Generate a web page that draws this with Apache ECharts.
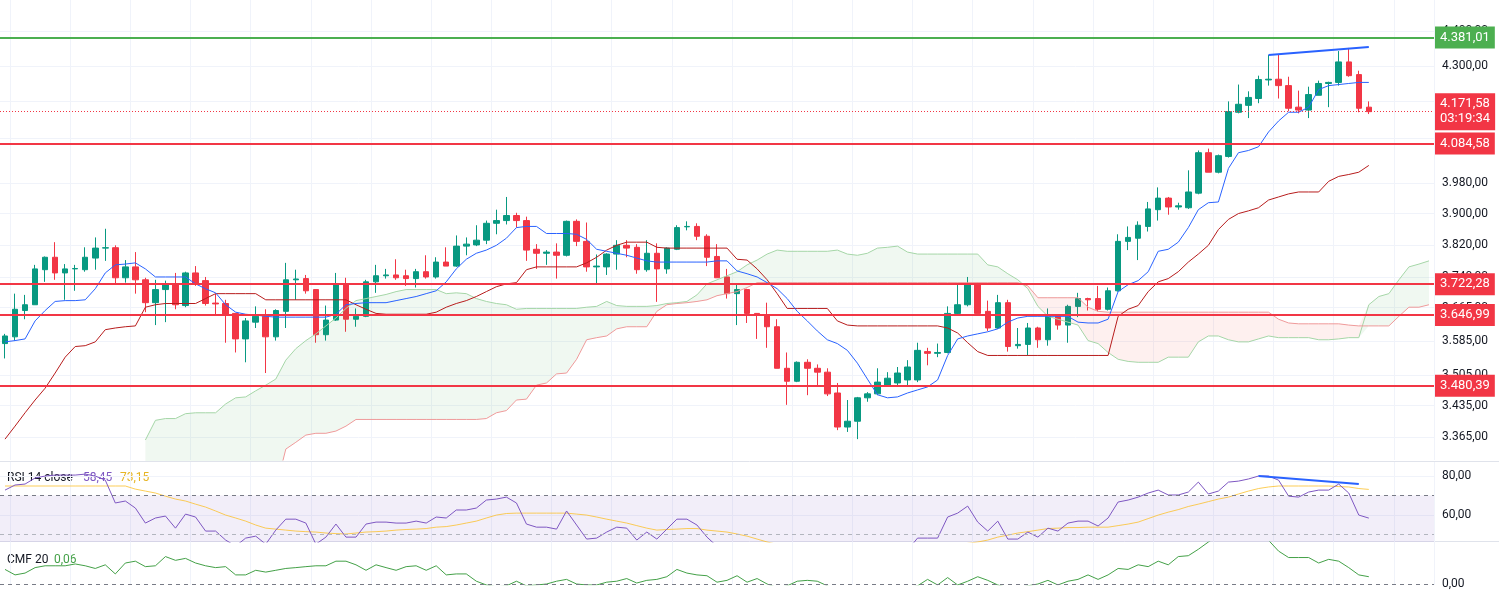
<!DOCTYPE html>
<html><head><meta charset="utf-8">
<script src="https://cdn.jsdelivr.net/npm/echarts@6/dist/echarts.min.js"></script>
<style>html,body{margin:0;padding:0;background:#fff}#c{width:1499px;height:590px}</style>
</head><body><div id="c"></div>
<script>
// [open, close, low, high]
const candles = [
[3579,3597,3544,3602],[3595,3661,3586,3699],[3658,3672,3637,3696],[3672,3760,3672,3770],[3758,3789,3728,3791],
[3789,3750,3733,3827],[3750,3760,3684,3772],[3760,3761,3706,3770],[3758,3789,3753,3814],[3787,3812,3758,3839],
[3812,3813,3780,3861],[3813,3738,3721,3819],[3738,3765,3726,3782],[3765,3733,3699,3802],[3733,3677,3654,3738],
[3677,3709,3623,3733],[3709,3721,3630,3731],[3721,3672,3661,3750],[3670,3750,3666,3753],[3750,3723,3718,3767],
[3731,3675,3670,3740],[3676,3674,3647,3699],[3675,3649,3581,3684],[3651,3590,3558,3651],[3590,3633,3535,3640],
[3630,3644,3616,3668],[3644,3595,3510,3661],[3595,3658,3586,3661],[3656,3733,3616,3775],[3733,3735,3684,3758],
[3736,3706,3699,3745],[3709,3600,3581,3709],[3600,3635,3586,3670],[3635,3723,3633,3750],[3723,3637,3607,3738],
[3637,3644,3619,3663],[3644,3728,3642,3733],[3728,3743,3701,3770],[3743,3745,3736,3760],[3745,3738,3733,3784],
[3743,3736,3718,3758],[3736,3753,3714,3760],[3753,3740,3736,3794],[3740,3777,3736,3789],[3777,3767,3767,3814],
[3767,3817,3765,3844],[3817,3822,3794,3839],[3820,3832,3817,3870],[3832,3875,3822,3882],[3875,3882,3847,3910],
[3882,3895,3872,3943],[3895,3882,3864,3902],[3882,3807,3780,3892],[3809,3799,3760,3822],[3799,3802,3770,3807],
[3802,3794,3736,3824],[3794,3880,3791,3882],[3880,3829,3817,3885],[3829,3765,3753,3877],[3765,3767,3723,3796],
[3765,3797,3745,3799],[3797,3819,3758,3832],[3819,3812,3789,3832],[3814,3758,3748,3822],[3758,3799,3753,3832],
[3799,3760,3679,3824],[3760,3812,3748,3814],[3809,3864,3807,3870],[3866,3867,3857,3880],[3867,3842,3832,3875],
[3842,3789,3767,3847],[3791,3738,3738,3822],[3740,3699,3687,3760],[3699,3709,3623,3723],[3709,3651,3628,3711],
[3651,3647,3590,3652],[3647,3619,3569,3677],[3619,3521,3521,3637],[3521,3491,3437,3558],[3491,3535,3489,3537],
[3535,3521,3459,3542],[3521,3512,3480,3530],[3512,3462,3457,3521],[3464,3387,3380,3487],[3387,3400,3376,3448],
[3400,3453,3360,3455],[3453,3462,3444,3466],[3462,3489,3459,3521],[3482,3498,3478,3512],[3487,3510,3478,3524],
[3494,3524,3482,3540],[3494,3563,3489,3581],[3560,3556,3528,3569],[3556,3558,3547,3579],[3558,3651,3556,3668],
[3651,3672,3649,3721],[3672,3723,3668,3740],[3723,3651,3651,3726],[3656,3616,3609,3682],[3616,3677,3614,3696],
[3677,3572,3560,3684],[3574,3577,3567,3616],[3577,3616,3551,3628],[3616,3588,3569,3619],[3588,3644,3574,3663],
[3644,3623,3612,3649],[3623,3668,3581,3672],[3668,3687,3642,3701],[3687,3684,3658,3689],[3687,3661,3656,3718],
[3661,3706,3658,3714],[3706,3829,3704,3847],[3829,3839,3807,3867],[3837,3870,3782,3880],[3867,3912,3854,3930],
[3910,3940,3882,3968],[3940,3917,3897,3943],[3917,3920,3910,3928],[3915,3956,3912,4013],[3953,4060,3950,4066],
[4060,4008,4008,4071],[4008,4052,4005,4055],[4050,4172,4047,4200],[4170,4192,4167,4247],[4189,4211,4154,4228],
[4208,4261,4195,4272],[4260,4262,4244,4331],[4262,4244,4208,4331],[4244,4181,4173,4269],[4184,4176,4167,4230],
[4176,4219,4154,4241],[4217,4250,4217,4258],[4250,4253,4184,4255],[4253,4311,4244,4342],[4311,4272,4269,4351],
[4275,4181,4170,4286],[4184,4171.58,4165,4200]
];
const tenkan = [3583,3586,3590,3633,3658,3680,3682,3682,3684,3711,
3750,3770,3772,3775,3760,3740,3740,3740,3740,3723,
3711,3701,3672,3654,3649,3647,3644,3642,3642,3642,
3642,3642,3642,3649,3672,3675,3677,3677,3677,3682,
3687,3692,3699,3706,3728,3760,3784,3799,3807,3819,
3837,3864,3867,3867,3849,3849,3849,3847,3834,3809,
3804,3799,3794,3787,3780,3777,3777,3777,3777,3777,
3777,3780,3780,3755,3748,3740,3726,3711,3687,3656,
3633,3609,3588,3579,3563,3533,3496,3460,3453,3455,
3464,3471,3478,3494,3551,3590,3597,3602,3607,3614,
3630,3640,3644,3644,3644,3644,3644,3630,3628,3628,
3637,3704,3721,3731,3753,3804,3809,3827,3864,3910,
3928,3930,4018,4060,4066,4076,4116,4146,4170,4170,
4184,4233,4244,4247,4250,4253,4253];
const kijun = [3360,3389,3419,3448,3475,3510,3547,3572,3574,3583,
3612,3616,3619,3621,3666,3672,3675,3675,3675,3675,
3687,3699,3699,3699,3699,3699,3684,3684,3684,3684,
3684,3684,3684,3684,3684,3672,3661,3651,3649,3649,
3649,3649,3649,3654,3666,3675,3682,3692,3704,3716,
3723,3726,3758,3765,3765,3765,3765,3765,3775,3789,
3807,3819,3827,3827,3827,3814,3812,3812,3812,3812,
3812,3812,3812,3784,3782,3760,3733,3699,3663,3663,
3663,3663,3663,3633,3623,3621,3621,3621,3621,3621,
3621,3621,3621,3621,3616,3604,3581,3560,3551,3551,
3551,3551,3551,3551,3551,3551,3551,3551,3551,3551,
3551,3644,3661,3670,3704,3728,3736,3753,3777,3797,
3819,3859,3885,3900,3907,3915,3935,3943,3951,3956,
3956,3956,3984,3997,4002,4008,4026];
const spanA = [null,null,null,null,null,null,null,null,null,null,null,null,null,null,
3358,3402,3406,3406,3417,3419,3419,3419,3439,3453,
3455,3469,3482,3496,3540,3567,3586,3602,3621,3640,
3663,3682,3687,3692,3697,3704,3709,3709,3709,3709,
3699,3701,3699,3687,3680,3675,3672,3661,3663,3663,
3663,3663,3663,3663,3666,3668,3680,3670,3668,3668,
3668,3670,3675,3677,3680,3696,3723,3733,3743,3753,
3770,3782,3797,3807,3804,3804,3804,3804,3804,3807,
3797,3794,3799,3812,3814,3817,3802,3797,3797,3797,
3797,3797,3797,3797,3770,3765,3748,3733,3711,3668,
3644,3637,3630,3623,3586,3579,3558,3542,3537,3535,
3535,3535,3547,3547,3547,3583,3597,3597,3588,3583,
3583,3590,3597,3593,3593,3593,3593,3588,3588,3590,
3593,3593,3672,3692,3699,3733,3765,3772,3780];
const spanB = [null,null,null,null,null,null,null,null,null,null,null,null,null,null,
3250,3250,3250,3250,3250,3250,3250,3250,3250,3250,3250,3250,3250,3250,
3338,3353,3369,3373,3373,3378,3389,3404,3404,3404,
3404,3404,3404,3404,3404,3404,3404,3404,3404,3404,
3406,3419,3424,3448,3450,3482,3487,3508,3510,3542,
3588,3593,3597,3614,3619,3619,3619,3656,3672,3675,
3677,3680,3684,3694,3699,3704,3714,3726,3726,3726,
3726,3726,3726,3726,3726,3726,3726,3726,3726,3726,3726,3726,
3726,3726,3726,3726,3726,3726,3726,3726,3726,3726,3726,3726,
3718,3689,3689,3689,3689,3689,3666,3656,
3654,3654,3654,3654,3654,3654,3654,3654,3654,3654,3654,3654,3654,3654,3654,3654,3654,
3637,3628,3626,3626,3626,3626,3626,3623,3621,3621,3621,3621,3644,3666,3666,3672];
const rsi = [72.8,75.4,75.9,79.0,80.0,80.5,80.5,80.5,81.0,80.0,
77.9,66.2,67.2,63.6,55.9,58.5,59.5,53.3,60.5,59.0,
51.8,51.8,47.2,44.1,48.2,49.2,45.1,52.3,57.9,57.9,
55.9,45.1,48.7,55.4,48.7,48.7,55.4,56.4,56.4,55.9,
55.9,56.9,55.9,59.0,58.5,62.6,62.6,63.6,67.7,68.2,
69.2,66.2,55.4,53.8,53.8,52.8,62.1,54.9,47.7,48.2,
51.3,53.8,53.3,47.2,51.3,47.7,52.8,57.9,57.9,54.9,
48.7,44,41,42,38,38,36,32,30,33,
31,31,29,26,28,32,33,36,38,40,
42,48.2,48.2,48.2,59.0,61.0,64.6,56.4,51.8,56.9,
47.7,47.7,51.3,48.7,53.3,51.8,55.9,56.9,56.9,54.4,
58.5,66.7,67.7,69.2,71.3,72.8,70.3,70.3,71.8,76.9,
70.8,72.3,76.9,77.4,78.5,80.0,80.0,77.9,69.7,69.2,
71.8,72.8,72.8,75.9,71.3,60.0,58.45];
const rsiMa = [74.9,74.9,74.9,74.9,74.9,74.9,74.9,74.9,74.9,74.9,
74.9,74.9,74.9,73.3,72.3,71.3,69.7,68.2,67.2,65.6,
64.1,62.1,60.0,58.5,56.9,54.9,53.3,52.8,52.3,51.8,
51.5,51.3,50.8,50.5,50.3,50.8,51.3,51.5,51.8,52.3,
52.6,52.8,53.1,53.8,54.1,54.9,55.9,56.9,58.5,60.0,
60.8,61.0,61.0,61.0,61.0,61.0,61.0,60.5,60.0,59.0,
57.9,56.9,55.9,54.6,53.3,52.3,52.6,52.8,53.1,53.1,
52.3,51.8,51.3,50.3,49.2,47.7,46.2,45,44,43,
42,41,40,39,38,37.5,37,37,37,37.5,
38,39,40,41,42.5,44,45.5,46.2,47.2,48.7,
49.7,50.8,51.5,52.3,53.1,53.3,53.6,53.6,53.8,53.8,
53.8,54.6,55.4,56.4,58.2,60.0,61.5,62.8,64.4,65.6,
66.9,68.2,69.2,70.8,72.3,73.6,74.4,74.9,74.9,74.9,
74.9,74.9,74.9,74.6,74.4,73.6,73.15];
const cmf = [0.120,0.075,0.090,0.135,0.150,0.150,0.150,0.165,0.150,0.128,
0.158,0.083,0.173,0.188,0.143,0.150,0.226,0.195,0.211,0.173,
0.150,0.135,0.143,0.075,0.075,0.113,0.098,0.113,0.128,0.135,
0.143,0.150,0.150,0.188,0.188,0.158,0.113,0.158,0.135,0.113,
0.143,0.150,0.113,0.150,0.075,0.083,0.083,0.023,-0.008,-0.023,
-0.015,0.023,-0.015,-0.008,0,0.023,0.038,0,-0.008,-0.008,
0.015,0.023,0.045,0.008,0.030,0.038,0.060,0.120,0.090,0.075,
0.068,0.015,0.030,0.068,0.015,0.045,0,-0.030,-0.015,0.023,
0.030,0.023,-0.015,-0.05,-0.07,-0.08,-0.06,-0.05,-0.04,-0.04,
-0.03,-0.015,0.038,-0.008,0.053,-0.008,0.023,0.060,0.030,-0.008,
-0.030,-0.030,-0.015,0,0.030,-0.008,0.023,0.038,0.075,0.038,
0.075,0.128,0.120,0.158,0.143,0.188,0.158,0.226,0.233,0.286,
0.346,0.40,0.44,0.45,0.44,0.41,0.36,0.271,0.218,0.218,
0.218,0.173,0.203,0.188,0.135,0.075,0.06];
const priceTicks = [3365,3435,3505,3585,3665,3740,3820,3900,3980,4100,4200,4300,4400];
const priceLabels = [3365,3435,3505,3585,3665,3740,3820,3900,3980,4200,4300,4400];
const redLevels = [4084.58,3722.28,3646.99,3480.39];
const greenLevel = 4381.01;
const lastPrice = 4171.58;
const countdown = '03:19:34';
const priceTrend = [[126,4331],[136,4354]];
const rsiTrend = [[125,80.0],[135,75.9]];
const nCat = 143;
const categories = Array.from({length:nCat},(_,i)=>String(i+1));

function fmt(v){const s=v.toFixed(2).split('.');return s[0].replace(/\B(?=(\d{3})+(?!\d))/g,'.')+','+s[1];}
const cloudBase = spanA.map((a,i)=>a==null?'-':Math.min(a,spanB[i]));
const cloudG = spanA.map((a,i)=>a==null?'-':Math.max(a-spanB[i],0));
const cloudR = spanA.map((a,i)=>a==null?'-':Math.max(spanB[i]-a,0));

const chart = echarts.init(document.getElementById('c'));
const gridLine = {show:true,lineStyle:{color:'#f0f3fa',width:1}};
const vSplit = {show:true,interval:(i)=>i%6===1,lineStyle:{color:'#f0f3fa'}};
const xBase = {type:'category',data:categories,boundaryGap:true,axisLine:{show:false},axisTick:{show:false},axisLabel:{show:false},splitLine:vSplit};
const lbl = {color:'#131722',fontSize:12,fontFamily:'Roboto, sans-serif',margin:8};
const levelLabel = (bg,txt)=>({show:true,position:'end',distance:1,formatter:txt,backgroundColor:bg,color:'#fff',padding:[4,5,3,5],fontSize:13,fontFamily:'Roboto, sans-serif',lineHeight:15});

const markLines = [
 {yAxis:greenLevel,lineStyle:{color:'#4caf50',width:2,type:'solid'},label:levelLabel('#4caf50',fmt(greenLevel))},
 ...redLevels.map(v=>({yAxis:v,lineStyle:{color:'#f23645',width:2,type:'solid'},label:levelLabel('#f23645',fmt(v))})),
 {yAxis:lastPrice,lineStyle:{color:'#f23645',width:1,type:[1,2]},label:levelLabel('#f23645',fmt(lastPrice)+'\n'+countdown)},
 [{coord:[priceTrend[0][0],priceTrend[0][1]],lineStyle:{color:'#2962ff',width:2,type:'solid'},label:{show:false}},{coord:[priceTrend[1][0],priceTrend[1][1]]}]
];

chart.setOption({
 animation:false,
 grid:[{left:0,right:65,top:0,height:460},{left:0,right:65,top:462,height:80},{left:0,right:65,top:542,height:48}],
 xAxis:[{...xBase,gridIndex:0},{...xBase,gridIndex:1},{...xBase,gridIndex:2}],
 yAxis:[
  {type:'log',gridIndex:0,position:'right',min:3314,max:4491,axisLine:{show:false},axisTick:{show:false,customValues:priceTicks},
   axisLabel:{...lbl,customValues:priceLabels,formatter:v=>fmt(v)},splitLine:gridLine},
  {type:'value',gridIndex:1,position:'right',min:46.2,max:87.2,axisLine:{show:false},axisTick:{show:false,customValues:[60,80]},
   axisLabel:{...lbl,customValues:[60,80],formatter:v=>fmt(v)},splitLine:gridLine},
  {type:'value',gridIndex:2,position:'right',min:-0.006,max:0.346,axisLine:{show:false},axisTick:{show:false,customValues:[0]},
   axisLabel:{...lbl,customValues:[0],formatter:v=>fmt(v)},splitLine:{show:false}}
 ],
 series:[
  {type:'line',xAxisIndex:0,yAxisIndex:0,data:cloudBase,stack:'cloud',symbol:'none',lineStyle:{opacity:0},silent:true},
  {type:'line',xAxisIndex:0,yAxisIndex:0,data:cloudG,stack:'cloud',symbol:'none',lineStyle:{opacity:0},areaStyle:{color:'rgba(67,160,71,0.11)'},silent:true},
  {type:'line',xAxisIndex:0,yAxisIndex:0,data:cloudR,stack:'cloud',symbol:'none',lineStyle:{opacity:0},areaStyle:{color:'rgba(244,67,54,0.11)'},silent:true},
  {type:'line',xAxisIndex:0,yAxisIndex:0,data:spanA,symbol:'none',lineStyle:{color:'#a5d6a7',width:1}},
  {type:'line',xAxisIndex:0,yAxisIndex:0,data:spanB,symbol:'none',lineStyle:{color:'#ef9a9a',width:1}},
  {type:'line',xAxisIndex:0,yAxisIndex:0,data:kijun,symbol:'none',lineStyle:{color:'#b71c1c',width:1}},
  {type:'line',xAxisIndex:0,yAxisIndex:0,data:tenkan,symbol:'none',lineStyle:{color:'#2962ff',width:1}},
  {type:'candlestick',xAxisIndex:0,yAxisIndex:0,data:candles,barWidth:6,
   itemStyle:{color:'#089981',color0:'#f23645',borderColor:'#089981',borderColor0:'#f23645',borderWidth:1},
   markLine:{symbol:'none',silent:true,data:markLines}},
  {type:'line',xAxisIndex:1,yAxisIndex:1,data:rsiMa,symbol:'none',lineStyle:{color:'#fbc02d',width:1,opacity:0.8}},
  {type:'line',xAxisIndex:1,yAxisIndex:1,data:rsi,symbol:'none',lineStyle:{color:'#7e57c2',width:1},
   markArea:{silent:true,itemStyle:{color:'rgba(126,87,194,0.1)'},data:[[{yAxis:30},{yAxis:70}]]},
   markLine:{symbol:'none',silent:true,label:{show:false},data:[
    {yAxis:70,lineStyle:{color:'#787b86',type:[4,4],width:1}},
    {yAxis:50,lineStyle:{color:'#b2b5be',type:[4,4],width:1}},
    [{coord:[rsiTrend[0][0],rsiTrend[0][1]],lineStyle:{color:'#2962ff',width:2,type:'solid'}},{coord:[rsiTrend[1][0],rsiTrend[1][1]]}]
   ]}},
  {type:'line',xAxisIndex:2,yAxisIndex:2,data:cmf,symbol:'none',lineStyle:{color:'#43a047',width:1},
   markLine:{symbol:'none',silent:true,label:{show:false},data:[{yAxis:0,lineStyle:{color:'#787b86',type:[4,4],width:1}}]}}
 ],
 graphic:[
  {type:'line',shape:{x1:0,y1:461.5,x2:1499,y2:461.5},style:{stroke:'#e0e3eb',lineWidth:1},silent:true},
  {type:'line',shape:{x1:0,y1:541.5,x2:1499,y2:541.5},style:{stroke:'#e0e3eb',lineWidth:1},silent:true},
  {type:'text',x:7,y:478,style:{text:'RSI 14 close',fill:'#131722',font:'12px Roboto, sans-serif',textVerticalAlign:'middle'}},
  {type:'text',x:83,y:478,style:{text:'58,45',fill:'#7e57c2',font:'12px Roboto, sans-serif',textVerticalAlign:'middle'}},
  {type:'text',x:120,y:478,style:{text:'73,15',fill:'#e6b422',font:'12px Roboto, sans-serif',textVerticalAlign:'middle'}},
  {type:'text',x:7,y:560,style:{text:'CMF 20',fill:'#131722',font:'12px Roboto, sans-serif',textVerticalAlign:'middle'}},
  {type:'text',x:54,y:560,style:{text:'0,06',fill:'#43a047',font:'12px Roboto, sans-serif',textVerticalAlign:'middle'}}
 ]
});
</script></body></html>
